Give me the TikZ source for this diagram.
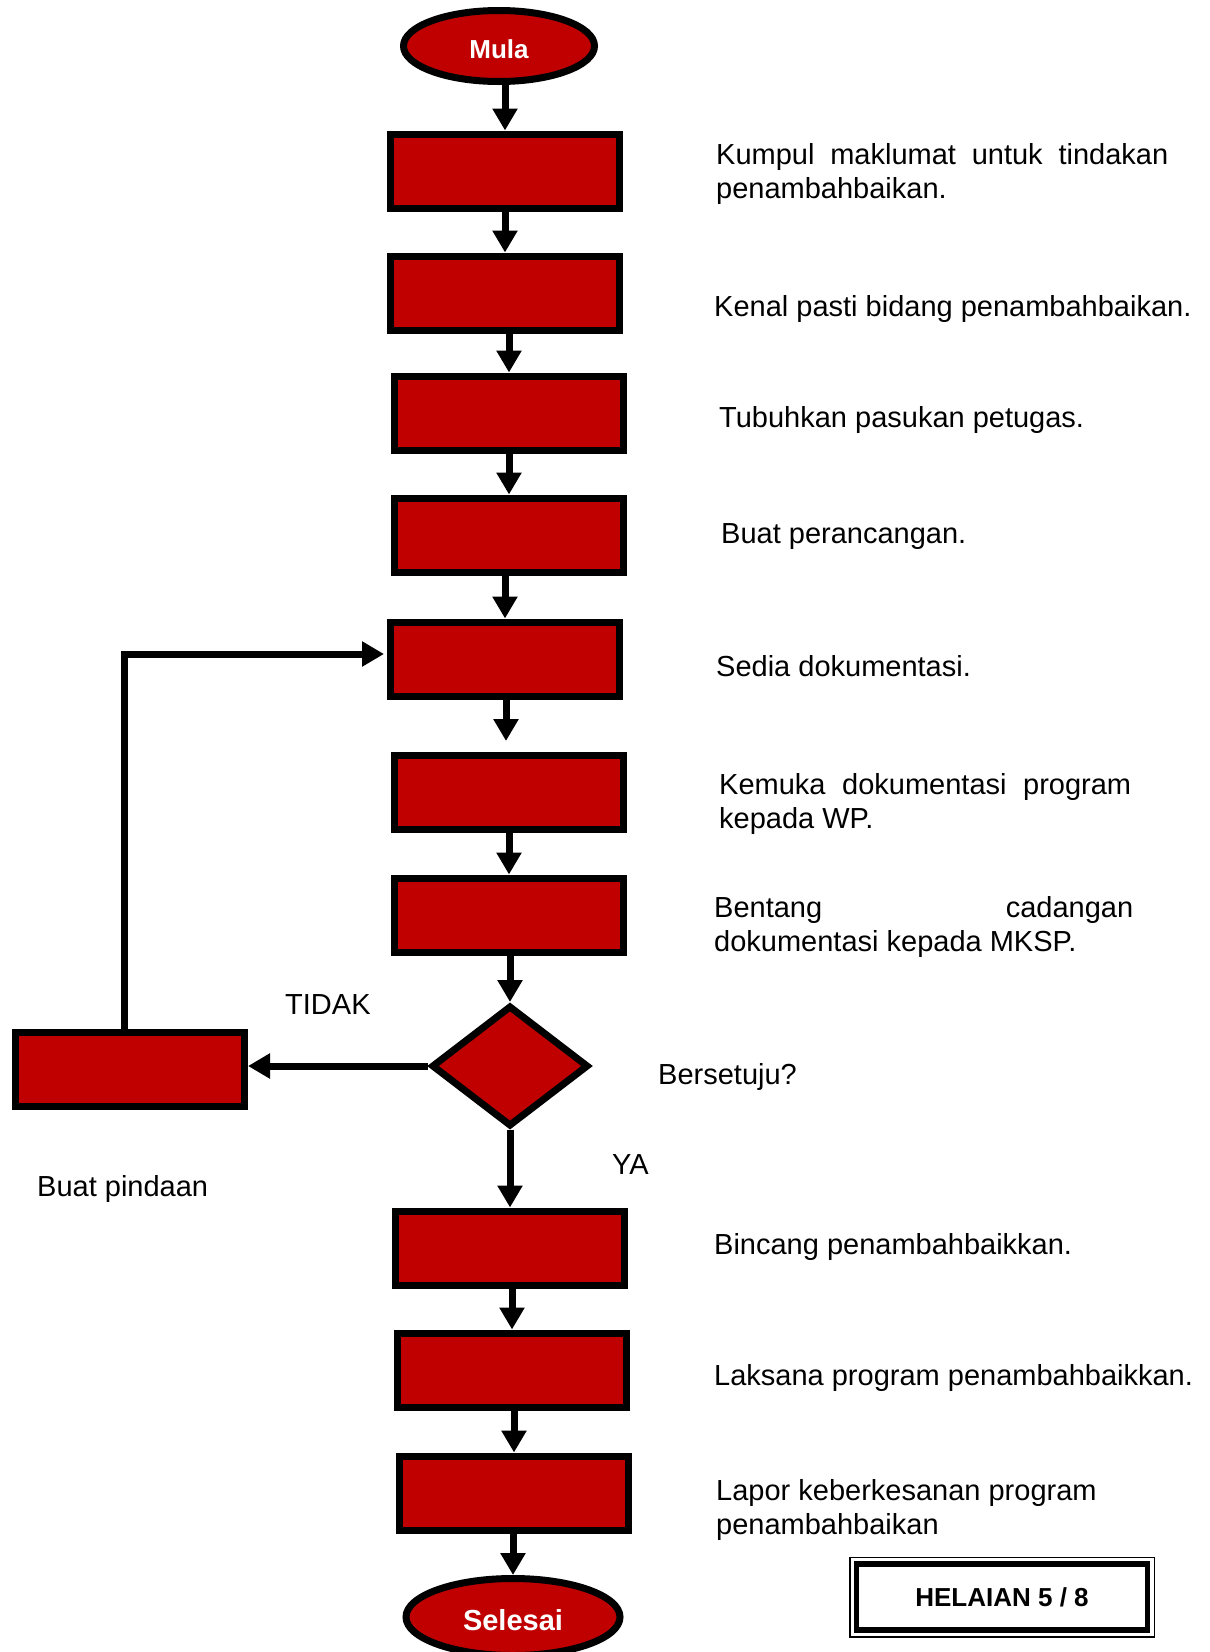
\documentclass[tikz,border=0pt]{standalone}
\usepackage{fontspec}
\setmainfont{Liberation Sans}
\usetikzlibrary{shapes.geometric,arrows.meta}
\definecolor{boxred}{RGB}{192,0,0}
\begin{document}
\begin{tikzpicture}[x=1pt,y=-1pt,
  stepbox/.style={draw,line width=7pt,fill=boxred,minimum width=229pt,minimum height=74pt,inner sep=0pt},
  term/.style={ellipse,draw,line width=7pt,fill=boxred,inner sep=0pt,text=white,font=\fontsize{26}{30}\selectfont\bfseries},
  decide/.style={diamond,draw,line width=7pt,fill=boxred,inner sep=0pt,minimum width=157pt,minimum height=121pt},
  arr/.style={line width=7pt,-{Triangle[width=24pt,length=22pt]}},
  lbl/.style={anchor=base west,inner sep=0pt,font=\fontsize{29}{34}\selectfont}]
\useasboundingbox[fill=white] (0,0) rectangle (1210,1652);

% terminals
\node[term,minimum width=191pt,minimum height=71pt,text height=26pt] (mula) at (499,46) {Mula};
\node[term,minimum width=214pt,minimum height=77pt,text height=27pt,font=\fontsize{29}{32}\selectfont\bfseries] (selesai) at (513,1617) {Selesai};

% process boxes
\node[stepbox] (b1) at (505,171) {};
\node[stepbox] (b2) at (505,293) {};
\node[stepbox] (b3) at (509,413) {};
\node[stepbox] (b4) at (509,535) {};
\node[stepbox] (b5) at (505,659) {};
\node[stepbox] (b6) at (509,792) {};
\node[stepbox] (b7) at (509,915) {};
\node[decide] (d) at (510,1066) {};
\node[stepbox] (lb) at (130,1069) {};
\node[stepbox] (b8) at (510,1248) {};
\node[stepbox] (b9) at (512,1370) {};
\node[stepbox] (b10) at (514,1493) {};
\coordinate (g6) at (506,741);

% connectors
\draw[arr] (b1.north |- mula.south) -- (b1.north);
\draw[arr] (b2.north |- b1.south) -- (b2.north);
\draw[arr] (b3.north |- b2.south) -- (b3.north);
\draw[arr] (b4.north |- b3.south) -- (b4.north);
\draw[arr] (b5.north |- b4.south) -- (b5.north);
\draw[arr] (g6 |- b5.south) -- (g6);
\draw[arr] (b7.north |- b6.south) -- (b7.north);
\draw[arr] (d.north |- b7.south) -- (d.north);
\draw[arr] (d.south) -- (b8.north);
\draw[arr] (b9.north |- b8.south) -- (b9.north);
\draw[arr] (b10.north |- b9.south) -- (b10.north);
\draw[arr] (selesai.north |- b10.south) -- (selesai.north);
\draw[arr] (d.west) -- (lb.east |- d.west);
\draw[arr,shorten >=3pt] ([xshift=-6pt]lb.north) |- ([yshift=5pt]b5.west);

% labels
\node[lbl] (t1a) at (716,164) {\hbox to 452pt{Kumpul\hfill maklumat\hfill untuk\hfill tindakan}};
\node[lbl] (t1b) at (716,198) {penambahbaikan.};
\node[lbl] (t2) at (714,316) {Kenal pasti bidang penambahbaikan.};
\node[lbl] (t3) at (719,427) {Tubuhkan pasukan petugas.};
\node[lbl] (t4) at (721,543) {Buat perancangan.};
\node[lbl] (t5) at (716,676) {Sedia dokumentasi.};
\node[lbl] (t6a) at (719,794) {\hbox to 412pt{Kemuka\hfill dokumentasi\hfill program}};
\node[lbl] (t6b) at (719,828) {kepada WP.};
\node[lbl] (t7a) at (714,917) {\hbox to 419pt{Bentang\hfill cadangan}};
\node[lbl] (t7b) at (714,951) {dokumentasi kepada MKSP.};
\node[lbl] (tidak) at (285,1014) {TIDAK};
\node[lbl] (setuju) at (658,1084) {Bersetuju?};
\node[lbl] (ya) at (612,1174) {YA};
\node[lbl] (pindaan) at (37,1196) {Buat pindaan};
\node[lbl] (t8) at (714,1254) {Bincang penambahbaikkan.};
\node[lbl] (t9) at (714,1385) {Laksana program penambahbaikkan.};
\node[lbl] (t10a) at (716,1500) {Lapor keberkesanan program};
\node[lbl] (t10b) at (716,1534) {penambahbaikan};

% sheet label
\node[draw,line width=5.5pt,minimum width=291pt,minimum height=66pt,inner sep=0pt,font=\fontsize{26}{30}\selectfont\bfseries] (hel) at (1002,1597) {HELAIAN 5 / 8};
\draw[line width=1.5pt] ([xshift=-4pt,yshift=-4pt]hel.south west) rectangle ([xshift=4pt,yshift=4pt]hel.north east);
\end{tikzpicture}
\end{document}
